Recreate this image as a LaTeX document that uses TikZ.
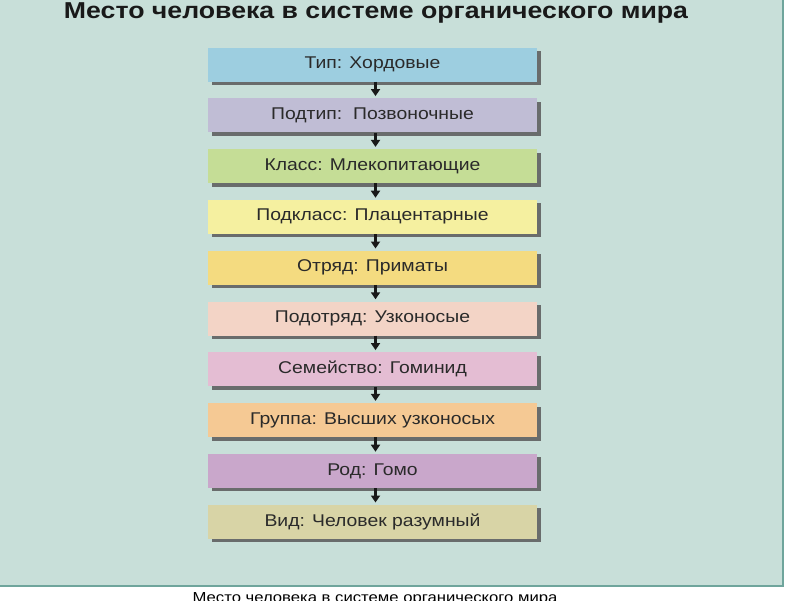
\documentclass[tikz,border=0pt]{standalone}
\usepackage{fontspec}
\setmainfont{Liberation Sans}
\usetikzlibrary{shadows,arrows.meta}
\definecolor{panelbg}{HTML}{C8DFD9}
\definecolor{panelborder}{HTML}{6FA59C}
\definecolor{txt}{HTML}{2A2A2A}
\definecolor{c1}{HTML}{9DCEE0}
\definecolor{c2}{HTML}{C0BDD5}
\definecolor{c3}{HTML}{C5DD96}
\definecolor{c4}{HTML}{F5F0A0}
\definecolor{c5}{HTML}{F4DB80}
\definecolor{c6}{HTML}{F3D4C6}
\definecolor{c7}{HTML}{E4BDD3}
\definecolor{c8}{HTML}{F5C994}
\definecolor{c9}{HTML}{C9A7CB}
\definecolor{c10}{HTML}{D8D4A6}
\newcommand{\widebox}[1]{\scalebox{1.14}[1]{#1}}
\newcommand{\widetitle}[1]{\scalebox{1.16}[1]{#1}}
\newcommand{\widecap}[1]{\scalebox{1.15}[1]{#1}}
\tikzset{
  rankbox/.style={draw=none, minimum width=329pt, minimum height=34pt, inner sep=0pt,
    text=txt, font=\fontsize{17}{20}\selectfont,
    drop shadow={shadow xshift=4pt, shadow yshift=-3.5pt, fill=black!65, opacity=0.85}},
  linkarrow/.style={line width=2.2pt, black!90, -{Triangle[width=9pt,length=7pt]}, shorten >=2pt},
}
\begin{document}
\begin{tikzpicture}[x=1pt,y=-1pt]
\useasboundingbox (0,0) rectangle (800,600);
\fill[white] (0,0) rectangle (800,600);
\fill[panelbg] (-5,-5) rectangle (783,586);
\draw[panelborder, line width=2pt] (783,-5) -- (783,586) -- (-5,586);
\node[anchor=base, font=\fontsize{23}{26}\selectfont\bfseries, text=black!90] (title) at (376,18.5) {\widetitle{Место человека в системе органического мира}};
\node[rankbox, fill=c1] (b1) at (372.5,64.5) {\widebox{Тип: Хордовые}};
\node[rankbox, fill=c2] (b2) at (372.5,115.3) {\widebox{Подтип:\ \ Позвоночные}};
\node[rankbox, fill=c3] (b3) at (372.5,166.1) {\widebox{Класс: Млекопитающие}};
\node[rankbox, fill=c4] (b4) at (372.5,216.9) {\widebox{Подкласс: Плацентарные}};
\node[rankbox, fill=c5] (b5) at (372.5,267.7) {\widebox{Отряд: Приматы}};
\node[rankbox, fill=c6] (b6) at (372.5,318.5) {\widebox{Подотряд: Узконосые}};
\node[rankbox, fill=c7] (b7) at (372.5,369.3) {\widebox{Семейство: Гоминид}};
\node[rankbox, fill=c8] (b8) at (372.5,420.1) {\widebox{Группа: Высших узконосых}};
\node[rankbox, fill=c9] (b9) at (372.5,470.9) {\widebox{Род: Гомо}};
\node[rankbox, fill=c10] (b10) at (372.5,521.7) {\widebox{Вид: Человек разумный}};
\foreach \a/\b in {b1/b2,b2/b3,b3/b4,b4/b5,b5/b6,b6/b7,b7/b8,b8/b9,b9/b10}
  \draw[linkarrow] ([xshift=3pt]\a.south) -- ([xshift=3pt]\b.north);
\node[anchor=base, font=\fontsize{14.5}{17}\selectfont, text=black] (caption) at (375,602) {\widecap{Место человека в системе органического мира}};
\end{tikzpicture}
\end{document}
